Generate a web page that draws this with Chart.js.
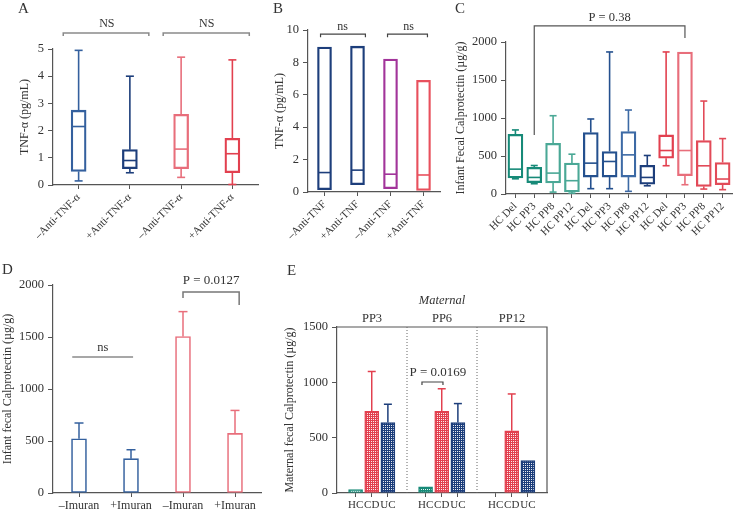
<!DOCTYPE html>
<html lang="en">
<head>
<meta charset="UTF-8">
<title>TNF-α and fecal calprotectin</title>
<script src="https://cdn.jsdelivr.net/npm/chart.js"></script>
<style>
  body { margin: 0; background: #fff; font-family: 'Liberation Serif', serif; }
  #wrap { position: relative; width: 734px; height: 512px; overflow: hidden; }
  canvas { position: absolute; }
  .tag { position: absolute; font-size: 15px; line-height: 15px; color: #333; }
</style>
</head>
<body>
<div id="wrap">
  <canvas id="chartA" width="262" height="250" style="left:0;top:0"></canvas>
  <canvas id="chartB" width="188" height="250" style="left:262px;top:0"></canvas>
  <canvas id="chartC" width="284" height="250" style="left:450px;top:0"></canvas>
  <canvas id="chartD" width="268" height="262" style="left:0;top:250px"></canvas>
  <canvas id="chartE" width="272" height="262" style="left:280px;top:250px"></canvas>
  <div class="tag" style="left:18px;top:1px">A</div>
  <div class="tag" style="left:273px;top:1px">B</div>
  <div class="tag" style="left:455px;top:1px">C</div>
  <div class="tag" style="left:2px;top:262px">D</div>
  <div class="tag" style="left:287px;top:263px">E</div>
</div>
<script>
// ---- data ----
// A: TNF-α box plots
const labelsA = ['\u2013Anti-TNF-\u03b1', '+Anti-TNF-\u03b1', '\u2013Anti-TNF-\u03b1', '+Anti-TNF-\u03b1'];
const minA = [0.15, 0.45, 0.28, 0.02];
const q1A  = [0.5, 0.6, 0.6, 0.45];
const medA = [2.15, 0.9, 1.32, 1.15];
const q3A  = [2.75, 1.3, 2.6, 1.72];
const maxA = [4.95, 4.0, 4.7, 4.6];

// B: TNF-α floating boxes (min-max with median)
const labelsB = ['\u2013Anti-TNF', '+Anti-TNF', '\u2013Anti-TNF', '+Anti-TNF'];
const lowB  = [0.15, 0.45, 0.2, 0.1];
const medB  = [1.2, 1.35, 1.1, 1.05];
const highB = [8.95, 9.0, 8.2, 6.9];

// C: infant fecal calprotectin box plots
const labelsC = ['HC Del', 'HC PP3', 'HC PP8', 'HC PP12', 'HC Del', 'HC PP3', 'HC PP8', 'HC PP12', 'HC Del', 'HC PP3', 'HC PP8', 'HC PP12'];
const minC = [200, 135, 25, 12, 70, 70, 35, 108, 372, 122, 65, 57];
const q1C  = [210, 150, 145, 26, 223, 223, 223, 130, 472, 240, 100, 122];
const medC = [327, 218, 275, 175, 406, 428, 515, 218, 572, 572, 371, 197];
const q3C  = [786, 350, 668, 406, 808, 559, 821, 376, 777, 1869, 703, 415];
const maxC = [843, 375, 1030, 524, 987, 1869, 1105, 507, 1869, 1869, 1223, 729];

// D: infant fecal calprotectin by Imuran
const labelsD = ['\u2013Imuran', '+Imuran', '\u2013Imuran', '+Imuran'];
const meanD = [522, 330, 1504, 573];
const errD  = [673, 416, 1744, 794];

// E: maternal fecal calprotectin
const groupsE = ['PP3', 'PP6', 'PP12'];
const subLabelsE = ['HC', 'CD', 'UC'];
const hcE = [30, 55, null];
const cdE = [738, 738, 562];
const ucE = [636, 636, 292];
const cdErrE = [1098, 942, 895];
const ucErrE = [802, 808, null];

// ---- colours ----
const blueMid = '#34609e', navy = '#1d3e7b', pink = '#e86e7b', red = '#e2404f';
const teal = '#178a78', tealLight = '#4aa896', purple = '#a2349a';
const colorsA = [blueMid, navy, pink, red];
const colorsB = [navy, navy, purple, '#e8505d'];
const colorsC = [teal, teal, tealLight, tealLight, '#24508e', '#24508e', '#3d6aa5', navy, red, pink, '#e24a58', '#e24a58'];
const colorsD = [blueMid, blueMid, pink, pink];

const SERIF = "'Liberation Serif', 'Times New Roman', serif";

// ---- plugins ----
function seg(ctx, x1, y1, x2, y2) {
  ctx.beginPath(); ctx.moveTo(x1, y1); ctx.lineTo(x2, y2); ctx.stroke();
}

const boxPlugin = {
  id: 'boxes',
  afterDatasetsDraw(chart, args, opts) {
    if (!opts.median) return;
    const { ctx } = chart;
    const y = chart.scales.y;
    const meta = chart.getDatasetMeta(0);
    ctx.save();
    ctx.lineWidth = 1.6;
    meta.data.forEach((bar, i) => {
      const p = bar.getProps(['x', 'y', 'base', 'width'], true);
      const half = p.width / 2 - 0.8;
      ctx.strokeStyle = opts.colors[i];
      const ym = y.getPixelForValue(opts.median[i]);
      seg(ctx, p.x - half, ym, p.x + half, ym);
      if (opts.low) {
        const lo = y.getPixelForValue(opts.low[i]);
        const hi = y.getPixelForValue(opts.high[i]);
        const bottom = Math.max(p.y, p.base), top = Math.min(p.y, p.base);
        const c = opts.cap / 2;
        if (lo > bottom + 0.5) { seg(ctx, p.x, bottom, p.x, lo); seg(ctx, p.x - c, lo, p.x + c, lo); }
        if (hi < top - 0.5) { seg(ctx, p.x, top, p.x, hi); seg(ctx, p.x - c, hi, p.x + c, hi); }
      }
    });
    ctx.restore();
  }
};

const errPlugin = {
  id: 'errbars',
  afterDatasetsDraw(chart, args, opts) {
    if (!opts.sets) return;
    const { ctx } = chart;
    const y = chart.scales.y;
    ctx.save();
    ctx.lineWidth = 1.5;
    opts.sets.forEach(s => {
      chart.getDatasetMeta(s.dataset).data.forEach((bar, i) => {
        const v = s.values[i];
        if (v == null) return;
        const p = bar.getProps(['x', 'y'], true);
        const yv = y.getPixelForValue(v);
        ctx.strokeStyle = Array.isArray(s.color) ? s.color[i] : s.color;
        seg(ctx, p.x, p.y, p.x, yv);
        seg(ctx, p.x - opts.cap / 2, yv, p.x + opts.cap / 2, yv);
      });
    });
    ctx.restore();
  }
};

const notePlugin = {
  id: 'notes',
  afterDraw(chart, args, opts) {
    if (!opts.items) return;
    const { ctx, chartArea: area } = chart;
    const X = v => chart.scales.x.getPixelForValue(v);
    const Y = v => chart.scales.y.getPixelForValue(v);
    ctx.save();
    opts.items.forEach(it => {
      ctx.strokeStyle = it.color || '#444';
      ctx.fillStyle = it.color || '#333';
      ctx.lineWidth = it.lineWidth || 1.2;
      ctx.setLineDash(it.dash || []);
      ctx.beginPath();
      if (it.type === 'bracket') {
        ctx.moveTo(X(it.x1), Y(it.yL));
        ctx.lineTo(X(it.x1), Y(it.y));
        ctx.lineTo(X(it.x2), Y(it.y));
        ctx.lineTo(X(it.x2), Y(it.yR));
        ctx.stroke();
      } else if (it.type === 'vline') {
        ctx.moveTo(X(it.x), area.top); ctx.lineTo(X(it.x), area.bottom); ctx.stroke();
      } else if (it.type === 'frame') {
        ctx.moveTo(area.left, area.top); ctx.lineTo(area.right, area.top); ctx.lineTo(area.right, area.bottom); ctx.stroke();
      } else if (it.type === 'text') {
        ctx.font = (it.italic ? 'italic ' : '') + (it.size || 12) + 'px ' + SERIF;
        ctx.textAlign = 'center';
        ctx.textBaseline = 'middle';
        ctx.fillText(it.text, X(it.x), Y(it.y));
      }
    });
    ctx.restore();
  }
};

Chart.register(boxPlugin, errPlugin, notePlugin);
Chart.defaults.font.family = SERIF;
Chart.defaults.font.size = 12;
Chart.defaults.color = '#333';
Chart.defaults.animation = false;
Chart.defaults.events = [];
Chart.defaults.plugins.legend.display = false;
Chart.defaults.plugins.tooltip.enabled = false;

// ---- axis helpers ----
function yAxis(max, step, title, titlePad, width) {
  return {
    min: 0, max: max,
    ticks: { stepSize: step, padding: 4, font: { family: SERIF, size: 12.5 }, color: '#333', callback: v => String(v) },
    grid: { drawOnChartArea: false, tickLength: 5, color: '#555' },
    border: { color: '#555', width: 1.2 },
    title: { display: true, text: title, padding: { top: titlePad, bottom: 0 }, font: { family: SERIF, size: 12 }, color: '#333' },
    afterFit: s => { s.width = width; }
  };
}
function xAxis(height, rot, size) {
  return {
    offset: true,
    grid: { offset: false, drawOnChartArea: false, tickLength: 4, color: '#555' },
    border: { color: '#555', width: 1.2 },
    ticks: { minRotation: rot, maxRotation: rot, autoSkip: false, padding: 2, font: { family: SERIF, size: size }, color: '#333' },
    afterFit: s => { s.height = height; }
  };
}
function boxSet(lo, hi, colors, thick) {
  return {
    data: lo.map((v, i) => [v, hi[i]]),
    backgroundColor: 'rgba(0,0,0,0)',
    borderColor: colors, borderWidth: 1.6, borderSkipped: false,
    barThickness: thick
  };
}

// ---- A ----
new Chart(document.getElementById('chartA'), {
  type: 'bar',
  data: { labels: labelsA, datasets: [boxSet(q1A, q3A, colorsA, 15)] },
  options: {
    responsive: false,
    layout: { padding: { top: 49, right: 4, left: 0, bottom: 0 } },
    scales: { x: xAxis(65, 45, 11), y: yAxis(5, 1, 'TNF-\u03b1 (pg/mL)', 18, 53) },
    plugins: {
      boxes: { low: minA, median: medA, high: maxA, colors: colorsA, cap: 8 },
      notes: { items: [
        { type: 'bracket', x1: -0.3, x2: 1.37, y: 5.59, yL: 5.48, yR: 5.48, color: '#8a8a8a', lineWidth: 1.5 },
        { type: 'text', x: 0.55, y: 5.94, text: 'NS' },
        { type: 'bracket', x1: 1.65, x2: 3.33, y: 5.59, yL: 5.48, yR: 5.48, color: '#8a8a8a', lineWidth: 1.5 },
        { type: 'text', x: 2.5, y: 5.94, text: 'NS' }
      ] }
    }
  }
});

// ---- B ----
new Chart(document.getElementById('chartB'), {
  type: 'bar',
  data: { labels: labelsB, datasets: [boxSet(lowB, highB, colorsB, 14)] },
  options: {
    responsive: false,
    layout: { padding: { top: 30, right: 10, left: 0, bottom: 0 } },
    scales: { x: xAxis(58, 45, 11), y: yAxis(10, 2, 'TNF-\u03b1 (pg/mL)', 11, 46) },
    plugins: {
      boxes: { median: medB, colors: colorsB },
      notes: { items: [
        { type: 'bracket', x1: -0.12, x2: 1.24, y: 9.75, yL: 9.55, yR: 9.55, color: '#444' },
        { type: 'text', x: 0.55, y: 10.2, text: 'ns' },
        { type: 'bracket', x1: 1.91, x2: 3.12, y: 9.75, yL: 9.55, yR: 9.55, color: '#444' },
        { type: 'text', x: 2.55, y: 10.2, text: 'ns' }
      ] }
    }
  }
});

// ---- C ----
new Chart(document.getElementById('chartC'), {
  type: 'bar',
  data: { labels: labelsC, datasets: [boxSet(q1C, q3C, colorsC, 15)] },
  options: {
    responsive: false,
    layout: { padding: { top: 42, right: 1, left: 0, bottom: 0 } },
    scales: { x: xAxis(56, 45, 11), y: yAxis(2000, 500, 'Infant Fecal Calprotectin (\u00b5g/g)', 4, 56) },
    plugins: {
      boxes: { low: minC, median: medC, high: maxC, colors: colorsC, cap: 7 },
      notes: { items: [
        { type: 'bracket', x1: 1, x2: 9, y: 2211, yL: 776, yR: 2053, color: '#555' },
        { type: 'text', x: 5, y: 2316, text: 'P = 0.38', size: 12.5 }
      ] }
    }
  }
});

// ---- D ----
new Chart(document.getElementById('chartD'), {
  type: 'bar',
  data: { labels: labelsD, datasets: [{
    data: meanD, backgroundColor: '#fff', borderColor: colorsD,
    borderWidth: 1.6, borderSkipped: false, barThickness: 15
  }] },
  options: {
    responsive: false,
    layout: { padding: { top: 35, right: 7, left: 0, bottom: 0 } },
    scales: { x: xAxis(19, 0, 12), y: yAxis(2000, 500, 'Infant fecal Calprotectin (\u00b5g/g)', 0.5, 53) },
    plugins: {
      errbars: { cap: 9, sets: [{ dataset: 0, values: errD, color: colorsD }] },
      notes: { items: [
        { type: 'bracket', x1: -0.13, x2: 1.04, y: 1308, yL: 1308, yR: 1308, color: '#8a8a8a', lineWidth: 1.5 },
        { type: 'text', x: 0.46, y: 1394, text: 'ns', size: 12.5 },
        { type: 'bracket', x1: 2.0, x2: 3.08, y: 1933, yL: 1875, yR: 1808, color: '#777', lineWidth: 1.5 },
        { type: 'text', x: 2.54, y: 2038, text: 'P = 0.0127', size: 13 }
      ] }
    }
  }
});

// ---- E ----
function makePattern(color) {
  const c = document.createElement('canvas');
  c.width = 2; c.height = 2;
  const g = c.getContext('2d');
  g.fillStyle = color; g.fillRect(0, 0, 2, 2);
  g.fillStyle = 'rgba(255,255,255,0.9)';
  g.fillRect(1, 1, 1, 1);
  return g.createPattern(c, 'repeat');
}
const spanE = 13 / 3;                       // width of one time-point group on the x scale
const posE = (g, k) => g * spanE + 1.15 + k; // bar slot inside a group
const tickPosE = [];
groupsE.forEach((_, g) => subLabelsE.forEach((_, k) => tickPosE.push(posE(g, k))));
function barSetE(values, k, color) {
  return {
    data: values.map((v, g) => ({ x: posE(g, k), y: v })),
    backgroundColor: makePattern(color), borderColor: color,
    borderWidth: 1.5, borderSkipped: false, barThickness: 14, grouped: false
  };
}
const xE = xAxis(19, 0, 11);
xE.type = 'linear';
xE.offset = false;
xE.min = 0; xE.max = 13;
xE.afterBuildTicks = s => { s.ticks = tickPosE.map(v => ({ value: v })); };
xE.ticks.callback = (v, i) => subLabelsE[i % 3];

new Chart(document.getElementById('chartE'), {
  type: 'bar',
  data: { datasets: [barSetE(hcE, 0, teal), barSetE(cdE, 1, red), barSetE(ucE, 2, navy)] },
  options: {
    responsive: false,
    layout: { padding: { top: 77, right: 5, left: 0, bottom: 0 } },
    scales: { x: xE, y: yAxis(1500, 500, 'Maternal fecal Calprotectin (\u00b5g/g)', 3, 57) },
    plugins: {
      errbars: { cap: 8, sets: [{ dataset: 1, values: cdErrE, color: red }, { dataset: 2, values: ucErrE, color: navy }] },
      notes: { items: [
        { type: 'frame', color: '#555' },
        { type: 'vline', x: spanE, color: '#666', dash: [1, 2], lineWidth: 1 },
        { type: 'vline', x: 2 * spanE, color: '#666', dash: [1, 2], lineWidth: 1 },
        { type: 'text', x: 1.5 * spanE, y: 1735, text: 'Maternal', italic: true, size: 12.5 },
        { type: 'text', x: 0.5 * spanE, y: 1572, text: groupsE[0], size: 12.5 },
        { type: 'text', x: 1.5 * spanE, y: 1572, text: groupsE[1], size: 12.5 },
        { type: 'text', x: 2.5 * spanE, y: 1572, text: groupsE[2], size: 12.5 },
        { type: 'bracket', x1: 5.26, x2: 6.56, y: 1003, yL: 976, yR: 976, color: '#444' },
        { type: 'text', x: 6.25, y: 1084, text: 'P = 0.0169', size: 13 }
      ] }
    }
  }
});
</script>
</body>
</html>
